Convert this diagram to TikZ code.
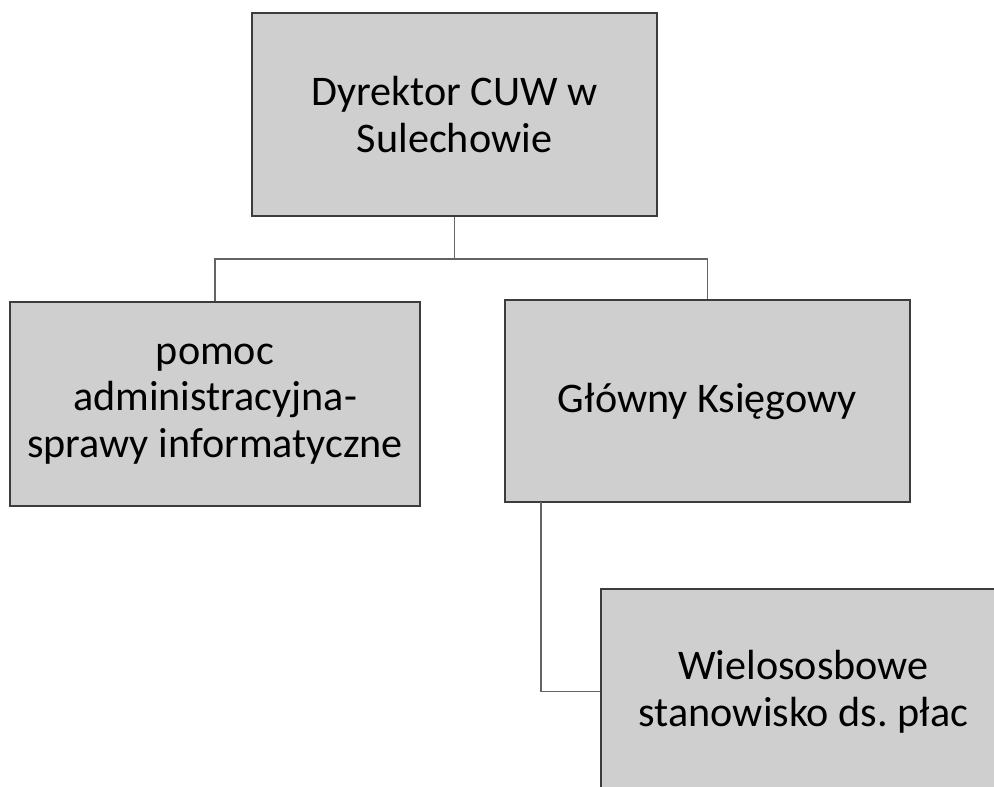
\documentclass[tikz,border=0pt]{standalone}
\usepackage{fontspec}
\setmainfont{Carlito}
\usetikzlibrary{positioning}
\frenchspacing

\definecolor{boxfill}{RGB}{207,207,207}
\definecolor{boxline}{RGB}{60,60,60}
\definecolor{linkline}{RGB}{100,100,100}

\tikzset{
	unit/.style={draw=boxline, fill=boxfill, line width=0.9pt, align=center,
		minimum width=8.1cm, minimum height=4.06cm, inner sep=0pt,
		font=\fontsize{24}{26.6}\selectfont},
	link/.style={draw=linkline, line width=0.75pt}
}

\begin{document}
\begin{tikzpicture}[x=0.02cm, y=-0.02cm]
	
	\useasboundingbox (0,0) rectangle (994,787);
	\clip (0,0) rectangle (994,787);
	
	\node[unit] (dyrektor) at (454.5,114.5) {Dyrektor CUW w\\Sulechowie};
	\node[unit, minimum width=8.2cm, minimum height=4.08cm] (pomoc) at (215,404) {pomoc\\administracyjna-\\sprawy informatyczne};
	\node[unit, minimum height=4.04cm] (ksiegowy) at (707.5,401) {Główny Księgowy};
	\node[unit, minimum height=4.1cm] (place) at (803.5,691.5) {Wielososbowe\\stanowisko ds. płac};
	
	\coordinate (bus) at (454.5,259);
	\coordinate (tap) at (541,502);
	
	\draw[link] (dyrektor.south) -- (bus);
	\draw[link] (pomoc.north) |- (ksiegowy.north |- bus) -- (ksiegowy.north);
	%\draw[link] (ksiegowy.south) |- (place.west);
	\draw[link] (tap) |- (place.west);
	
\end{tikzpicture}
\end{document}
